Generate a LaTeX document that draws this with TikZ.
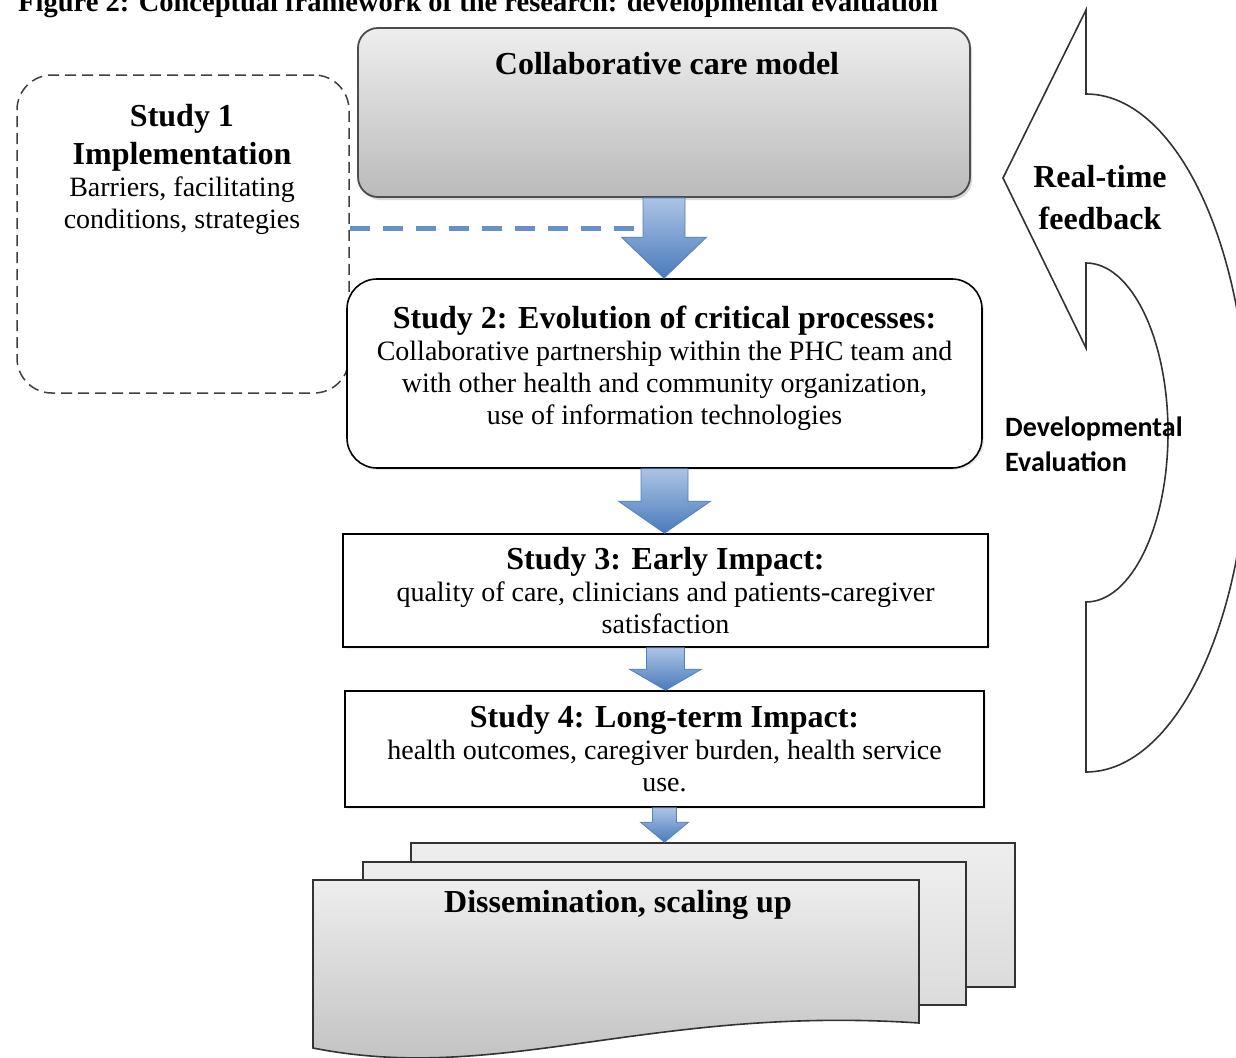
\documentclass[tikz,border=0pt]{standalone}
\usepackage{fontspec}
\setmainfont{Liberation Serif}
\newfontfamily\calibrifont{Carlito}
\usepackage{tikz}
\usetikzlibrary{calc,positioning,shadows}
\definecolor{arrowtop}{RGB}{172,196,228}
\definecolor{arrowbot}{RGB}{74,122,188}
\definecolor{arrowline}{RGB}{84,128,188}
\definecolor{linkblue}{RGB}{104,144,200}
\definecolor{sheettop}{RGB}{238,238,238}
\newcommand{\boxtitle}{\fontsize{32}{38}\selectfont\bfseries}
\newcommand{\boxbody}{\fontsize{28}{32}\selectfont}
\newcommand{\figtitle}{\fontsize{28.5}{34}\selectfont\bfseries}
\tikzset{
    textonly/.style={inner sep=0pt, align=center},
    greybox/.style={draw=black!70, line width=1.8pt, rounded corners=20pt,
        top color=sheettop, bottom color=black!27,
        drop shadow={opacity=0.3, shadow xshift=2pt, shadow yshift=-3pt}},
    studybox/.style={draw=black, line width=1.6pt, fill=white, align=center,
        font=\boxbody, inner sep=0pt,
        drop shadow={opacity=0.15, shadow xshift=2pt, shadow yshift=-2pt}},
    roundstudy/.style={studybox, rounded corners=30pt},
    dashbox/.style={draw=black!75, line width=1.5pt, dash pattern=on 11pt off 6pt,
        rounded corners=35pt},
    sheet/.style={draw=black!80, line width=1.6pt, top color=sheettop, bottom color=black!14},
    frontsheet/.style={sheet, bottom color=black!26},
    blockarrow/.style={top color=arrowtop, bottom color=arrowbot, draw=arrowline, line width=0.8pt},
    linkdash/.style={linkblue, line width=5pt, dash pattern=on 20pt off 13pt},
    loopline/.style={draw=black!80, line width=1.6pt, fill=white},
}
% block arrow: top node, bottom node, shaft half width, head half width, head length
\newcommand{\blockarrow}[5]{%
    \path[blockarrow] let \p1=(#1.south), \p2=(#2.north) in
        (\x1-#3,\y1) -- (\x1+#3,\y1) -- (\x1+#3,\y2+#5) -- (\x1+#4,\y2+#5)
        -- (\x1,\y2) -- (\x1-#4,\y2+#5) -- (\x1-#3,\y2+#5) -- cycle;
}

\begin{document}
\begin{tikzpicture}[x=1pt,y=-1pt]
    \useasboundingbox (0,0) rectangle (1236,1057);
    \clip (0,0) rectangle (1236,1057);
    \fill[white] (0,0) rectangle (1236,1057);

    % title, cut at the top
    \node[textonly, font=\figtitle, anchor=base west] (figtitle) at (18,12)
        {Figure 2: Conceptual framework of the research: developmental evaluation};

    % feedback loop
    \path[loopline] (1086,10) -- (1086,94)
        .. controls (1175.5,94) and (1248,245.8) .. (1248,433)
        .. controls (1248,620.2) and (1175.5,772) .. (1086,772)
        -- (1086,602)
        .. controls (1131.3,602) and (1168,526.1) .. (1168,432.5)
        .. controls (1168,338.9) and (1131.3,263) .. (1086,263)
        -- (1086,348) -- (1003,178) -- cycle;
    \node[textonly, font=\fontsize{32}{42}\selectfont\bfseries] (feedback) at (1100,197.5) {Real-time\\feedback};
    \node[textonly, align=left, anchor=west, font=\calibrifont\fontsize{28}{35}\selectfont\bfseries] (develop) at (1005,444)
        {Developmental\\Evaluation};

    % model
    \node[greybox, minimum width=612pt, minimum height=169pt] (care) at (664,112.5) {};
    \node[textonly, font=\boxtitle] (caretitle) at (667,64) {Collaborative care model};

    % study 1
    \node[dashbox, minimum width=332pt, minimum height=318pt] (study1) at (183,234) {};
    \node[textonly, font=\boxtitle, anchor=north] (s1title) at (182,104) {Study 1\\Implementation};
    \node[textonly, font=\boxbody, below=5pt of s1title] (s1body) {Barriers, facilitating\\conditions, strategies};

    % studies 2-4
    \node[roundstudy, minimum width=635pt, minimum height=189pt, text depth=16pt] (study2) at (664.5,373.5)
        {{\boxtitle Study 2: Evolution of critical processes:}\\
         Collaborative partnership within the PHC team and\\
         with other health and community organization,\\
         use of information technologies};
    \node[studybox, minimum width=645pt, minimum height=113pt] (study3) at (665.5,590.5)
        {{\boxtitle Study 3: Early Impact:}\\
         quality of care, clinicians and patients-caregiver\\
         satisfaction};
    \node[studybox, minimum width=639pt, minimum height=116pt] (study4) at (664.5,749)
        {{\boxtitle Study 4: Long-term Impact:}\\
         health outcomes, caregiver burden, health service\\
         use.};

    % dissemination sheets
    \node[sheet, minimum width=604pt, minimum height=144pt] (sheetback) at (713,915) {};
    \node[sheet, minimum width=603pt, minimum height=143pt] (sheetmid) at (664.5,933.5) {};
    \path[frontsheet] (313,880) -- (919,880) -- (919,1023)
        .. controls (650,1005) and (500,1085) .. (313,1048) -- cycle;
    \node[textonly, font=\boxtitle] (dissem) at (618,905) {Dissemination, scaling up};

    % links
    \draw[linkdash] ([yshift=6pt]study1.east) -- ([yshift=6pt]study1.east -| care.south);
    \blockarrow{care}{study2}{21}{42.5}{41}
    \blockarrow{study2}{study3}{23.5}{46}{32}
    \blockarrow{study3}{study4}{19}{36}{21}
    \blockarrow{study4}{sheetback}{12}{24}{20}
\end{tikzpicture}
\end{document}
